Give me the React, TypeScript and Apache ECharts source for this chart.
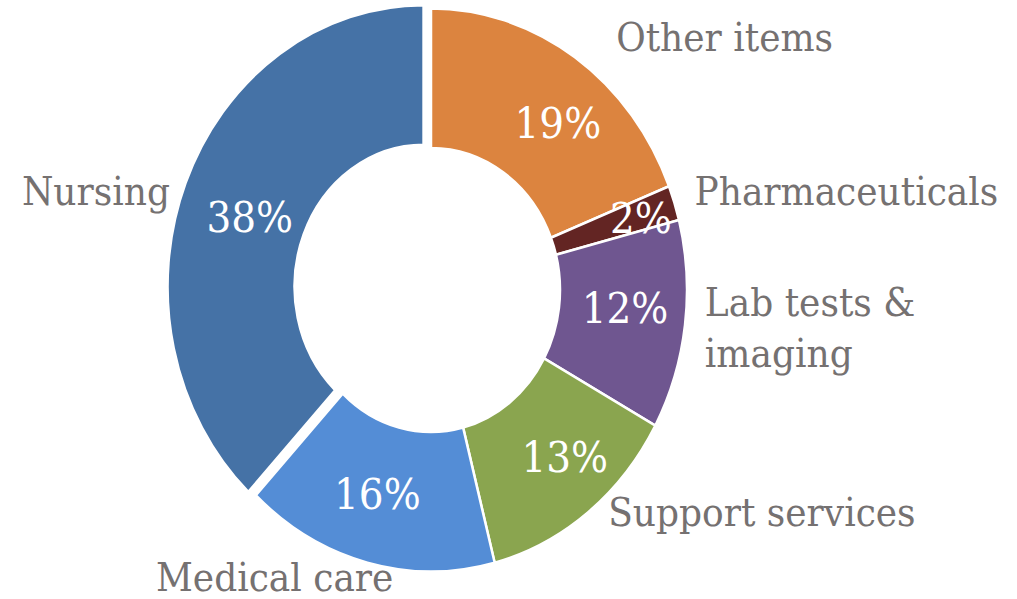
import React, { useEffect, useRef } from "react";
import * as echarts from "echarts";

// Data (clockwise from 12 o'clock)
const categories = [
  "Other items",
  "Pharmaceuticals",
  "Lab tests &\nimaging",
  "Support services",
  "Medical care",
  "Nursing",
];
const values = [19, 2, 12, 13, 16, 38];
const colors = ["#DC843F", "#632523", "#6F5690", "#8AA54F", "#548DD6", "#4572A6"];
const explodedIndex = 5;

// Styling / layout
const STRETCH = 1.1; // reference donut is slightly taller than wide
const W = 1017;
const H = 599;
const nameShift: number[][] = [
  [25, -1],
  [-4, -4],
  [-5, 0],
  [3, -16],
  [36, -6],
  [8, 15],
];
const pctShift: number[][] = [
  [17, 10],
  [24, -5],
  [0, -8],
  [14, -2],
  [-5, -4],
  [8, 9],
];

export default function App() {
  const ref = useRef<HTMLDivElement>(null);
  useEffect(() => {
    if (!ref.current) return;
    const chart = echarts.init(ref.current, null, { renderer: "svg" });
    const mk = () =>
      categories.map((name, i) => ({
        name,
        value: values[i],
        selected: i === explodedIndex,
        itemStyle: { color: colors[i] },
      }));
    const cy = 290 / STRETCH;
    chart.setOption({
      animation: false,
      series: [
        {
          type: "pie",
          center: [431, cy],
          radius: [129, 256],
          startAngle: 90,
          clockwise: true,
          selectedMode: "multiple",
          selectedOffset: 8,
          avoidLabelOverlap: false,
          silent: true,
          itemStyle: { borderColor: "#ffffff", borderWidth: 2.5 },
          label: {
            show: true,
            position: "inside",
            formatter: "{c}%",
            color: "#ffffff",
            fontFamily: "DejaVu Serif",
            fontSize: 39,
          },
          labelLine: { show: false },
          labelLayout: (p: any) => ({
            dx: pctShift[p.dataIndex][0],
            dy: pctShift[p.dataIndex][1],
          }),
          emphasis: { disabled: true },
          data: mk(),
        },
        {
          type: "pie",
          center: [431, cy],
          radius: [129, 256],
          startAngle: 90,
          clockwise: true,
          selectedMode: "multiple",
          selectedOffset: 8,
          avoidLabelOverlap: false,
          silent: true,
          itemStyle: { color: "rgba(0,0,0,0)", borderWidth: 0 },
          label: {
            show: true,
            position: "outside",
            formatter: "{b}",
            color: "#757171",
            fontFamily: "DejaVu Serif",
            fontSize: 36,
            lineHeight: 47,
          },
          labelLine: { show: false, length: 20, length2: 0 },
          labelLayout: (p: any) => ({
            dx: nameShift[p.dataIndex][0],
            dy: nameShift[p.dataIndex][1],
          }),
          emphasis: { disabled: true },
          data: mk().map((d) => ({ ...d, itemStyle: { color: "rgba(0,0,0,0)" } })),
        },
      ],
    });
    return () => chart.dispose();
  }, []);
  return (
    <div
      style={{
        position: "fixed",
        left: 0,
        top: 0,
        width: W,
        height: H,
        overflow: "hidden",
        background: "#ffffff",
      }}
    >
      <div
        ref={ref}
        style={{
          width: W,
          height: H / STRETCH,
          transform: `scaleY(${STRETCH})`,
          transformOrigin: "0 0",
        }}
      />
    </div>
  );
}
